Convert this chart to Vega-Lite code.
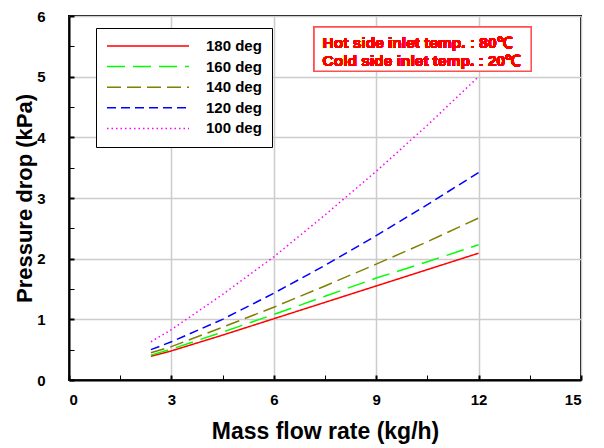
{
  "$schema": "https://vega.github.io/schema/vega-lite/v6.json",
  "width": 512,
  "height": 364,
  "autosize": {"type": "none"},
  "padding": {"left": 69, "top": 16, "right": 23, "bottom": 68},
  "background": "white",
  "config": {
    "font": "Liberation Sans",
    "view": {"stroke": "#000000", "strokeWidth": 2},
    "axis": {
      "domainColor": "#000000",
      "domainWidth": 2,
      "labelFont": "Liberation Sans",
      "labelFontWeight": "bold",
      "labelFontSize": 15,
      "labelColor": "#000000",
      "titleFont": "Liberation Sans",
      "titleFontWeight": "bold",
      "titleFontSize": 22,
      "titleColor": "#000000"
    }
  },
  "data": {
    "values": [
      {"x": 2.4, "dp": 0.39, "series": "180 deg"},
      {"x": 3, "dp": 0.48, "series": "180 deg"},
      {"x": 4.5, "dp": 0.74, "series": "180 deg"},
      {"x": 6, "dp": 1.01, "series": "180 deg"},
      {"x": 7.5, "dp": 1.28, "series": "180 deg"},
      {"x": 9, "dp": 1.55, "series": "180 deg"},
      {"x": 10.5, "dp": 1.82, "series": "180 deg"},
      {"x": 12, "dp": 2.09, "series": "180 deg"},
      {"x": 2.4, "dp": 0.41, "series": "160 deg"},
      {"x": 3, "dp": 0.51, "series": "160 deg"},
      {"x": 4.5, "dp": 0.79, "series": "160 deg"},
      {"x": 6, "dp": 1.08, "series": "160 deg"},
      {"x": 7.5, "dp": 1.38, "series": "160 deg"},
      {"x": 9, "dp": 1.68, "series": "160 deg"},
      {"x": 10.5, "dp": 1.95, "series": "160 deg"},
      {"x": 12, "dp": 2.23, "series": "160 deg"},
      {"x": 2.4, "dp": 0.45, "series": "140 deg"},
      {"x": 3, "dp": 0.55, "series": "140 deg"},
      {"x": 4.5, "dp": 0.87, "series": "140 deg"},
      {"x": 6, "dp": 1.2, "series": "140 deg"},
      {"x": 7.5, "dp": 1.55, "series": "140 deg"},
      {"x": 9, "dp": 1.91, "series": "140 deg"},
      {"x": 10.5, "dp": 2.28, "series": "140 deg"},
      {"x": 12, "dp": 2.67, "series": "140 deg"},
      {"x": 2.4, "dp": 0.5, "series": "120 deg"},
      {"x": 3, "dp": 0.63, "series": "120 deg"},
      {"x": 4.5, "dp": 1.0, "series": "120 deg"},
      {"x": 6, "dp": 1.43, "series": "120 deg"},
      {"x": 7.5, "dp": 1.89, "series": "120 deg"},
      {"x": 9, "dp": 2.38, "series": "120 deg"},
      {"x": 10.5, "dp": 2.89, "series": "120 deg"},
      {"x": 12, "dp": 3.42, "series": "120 deg"},
      {"x": 2.4, "dp": 0.63, "series": "100 deg"},
      {"x": 3, "dp": 0.83, "series": "100 deg"},
      {"x": 4.5, "dp": 1.41, "series": "100 deg"},
      {"x": 6, "dp": 2.03, "series": "100 deg"},
      {"x": 7.5, "dp": 2.72, "series": "100 deg"},
      {"x": 9, "dp": 3.44, "series": "100 deg"},
      {"x": 10.5, "dp": 4.2, "series": "100 deg"},
      {"x": 12, "dp": 5.0, "series": "100 deg"}
    ]
  },
  "layer": [
    {
      "mark": {"type": "line", "strokeWidth": 1.5},
      "encoding": {
        "x": {
          "field": "x", "type": "quantitative",
          "scale": {"domain": [0, 15], "nice": false, "zero": false},
          "axis": {
            "title": "Mass flow rate (kg/h)",
            "titleFontSize": 23,
            "grid": true,
            "ticks": true,
            "values": [0, 1.5, 3, 4.5, 6, 7.5, 9, 10.5, 12, 13.5, 15],
            "labelExpr": "datum.value % 3 === 0 ? datum.label : ''",
            "gridColor": {"condition": {"test": "datum.value % 3 === 0", "value": "#cccccc"}, "value": "transparent"},
            "gridWidth": 1.5,
            "tickColor": "#000000",
            "tickWidth": {"condition": {"test": "datum.value % 3 === 0", "value": 2}, "value": 1},
            "tickSize": -5,
            "labelPadding": 17,
            "titlePadding": 13
          }
        },
        "y": {
          "field": "dp", "type": "quantitative",
          "scale": {"domain": [0, 6], "nice": false, "zero": false},
          "axis": {
            "title": "Pressure drop (kPa)",
            "grid": true,
            "ticks": true,
            "values": [0, 0.5, 1, 1.5, 2, 2.5, 3, 3.5, 4, 4.5, 5, 5.5, 6],
            "labelExpr": "datum.value % 1 === 0 ? format(datum.value, 'd') : ''",
            "gridColor": {"condition": {"test": "datum.value % 1 === 0", "value": "#cccccc"}, "value": "transparent"},
            "gridWidth": 1.5,
            "tickColor": "#000000",
            "tickWidth": {"condition": {"test": "datum.value % 1 === 0", "value": 2}, "value": 1},
            "tickSize": -5,
            "labelPadding": 29,
            "titlePadding": 0
          }
        },
        "color": {
          "field": "series", "type": "nominal",
          "scale": {
            "domain": ["180 deg", "160 deg", "140 deg", "120 deg", "100 deg"],
            "range": ["#ff0000", "#00ff00", "#808000", "#0000ff", "#ff00ff"]
          },
          "legend": {
            "title": null,
            "orient": "none",
            "legendX": 27,
            "legendY": 12,
            "symbolType": "stroke",
            "symbolSize": 6724,
            "symbolStrokeWidth": 1.5,
            "clipHeight": 16,
            "rowPadding": 4.6,
            "padding": 10,
            "labelOffset": 16,
            "labelFont": "Liberation Sans",
            "labelFontWeight": "bold",
            "labelFontSize": 15,
            "labelColor": "#000000",
            "strokeColor": "#000000",
            "fillColor": "#ffffff",
            "cornerRadius": 0
          }
        },
        "strokeDash": {
          "field": "series", "type": "nominal",
          "scale": {
            "domain": ["180 deg", "160 deg", "140 deg", "120 deg", "100 deg"],
            "range": [[1, 0], [18, 8], [14, 6], [9, 5], [1.5, 3]]
          },
          "legend": null
        }
      }
    },
    {
      "mark": {"type": "rect", "fill": "#ffffff", "stroke": "#ff5050", "strokeWidth": 1.5},
      "encoding": {
        "x": {
          "datum": 7.18, "type": "quantitative",
          "axis": {
            "title": "Mass flow rate (kg/h)",
            "titleFontSize": 23,
            "grid": true,
            "ticks": true,
            "values": [0, 1.5, 3, 4.5, 6, 7.5, 9, 10.5, 12, 13.5, 15],
            "labelExpr": "datum.value % 3 === 0 ? datum.label : ''",
            "gridColor": {"condition": {"test": "datum.value % 3 === 0", "value": "#cccccc"}, "value": "transparent"},
            "gridWidth": 1.5,
            "tickColor": "#000000",
            "tickWidth": {"condition": {"test": "datum.value % 3 === 0", "value": 2}, "value": 1},
            "tickSize": -5,
            "labelPadding": 17,
            "titlePadding": 13
          }
        },
        "x2": {"datum": 13.54},
        "y": {
          "datum": 5.82, "type": "quantitative",
          "axis": {
            "title": "Pressure drop (kPa)",
            "grid": true,
            "ticks": true,
            "values": [0, 0.5, 1, 1.5, 2, 2.5, 3, 3.5, 4, 4.5, 5, 5.5, 6],
            "labelExpr": "datum.value % 1 === 0 ? format(datum.value, 'd') : ''",
            "gridColor": {"condition": {"test": "datum.value % 1 === 0", "value": "#cccccc"}, "value": "transparent"},
            "gridWidth": 1.5,
            "tickColor": "#000000",
            "tickWidth": {"condition": {"test": "datum.value % 1 === 0", "value": 2}, "value": 1},
            "tickSize": -5,
            "labelPadding": 29,
            "titlePadding": 0
          }
        },
        "y2": {"datum": 5.09}
      }
    },
    {
      "mark": {
        "type": "text",
        "text": ["Hot side inlet temp. : 80℃", "Cold side inlet temp. : 20℃"],
        "align": "left",
        "baseline": "alphabetic",
        "lineHeight": 18,
        "font": "Liberation Sans",
        "fontWeight": "bold",
        "fontSize": 15.5,
        "color": "#ff0000"
      },
      "encoding": {
        "x": {
          "datum": 7.43, "type": "quantitative",
          "axis": {
            "title": "Mass flow rate (kg/h)",
            "titleFontSize": 23,
            "grid": true,
            "ticks": true,
            "values": [0, 1.5, 3, 4.5, 6, 7.5, 9, 10.5, 12, 13.5, 15],
            "labelExpr": "datum.value % 3 === 0 ? datum.label : ''",
            "gridColor": {"condition": {"test": "datum.value % 3 === 0", "value": "#cccccc"}, "value": "transparent"},
            "gridWidth": 1.5,
            "tickColor": "#000000",
            "tickWidth": {"condition": {"test": "datum.value % 3 === 0", "value": 2}, "value": 1},
            "tickSize": -5,
            "labelPadding": 17,
            "titlePadding": 13
          }
        },
        "y": {
          "datum": 5.48, "type": "quantitative",
          "axis": {
            "title": "Pressure drop (kPa)",
            "grid": true,
            "ticks": true,
            "values": [0, 0.5, 1, 1.5, 2, 2.5, 3, 3.5, 4, 4.5, 5, 5.5, 6],
            "labelExpr": "datum.value % 1 === 0 ? format(datum.value, 'd') : ''",
            "gridColor": {"condition": {"test": "datum.value % 1 === 0", "value": "#cccccc"}, "value": "transparent"},
            "gridWidth": 1.5,
            "tickColor": "#000000",
            "tickWidth": {"condition": {"test": "datum.value % 1 === 0", "value": 2}, "value": 1},
            "tickSize": -5,
            "labelPadding": 29,
            "titlePadding": 0
          }
        }
      }
    }
  ]
}
